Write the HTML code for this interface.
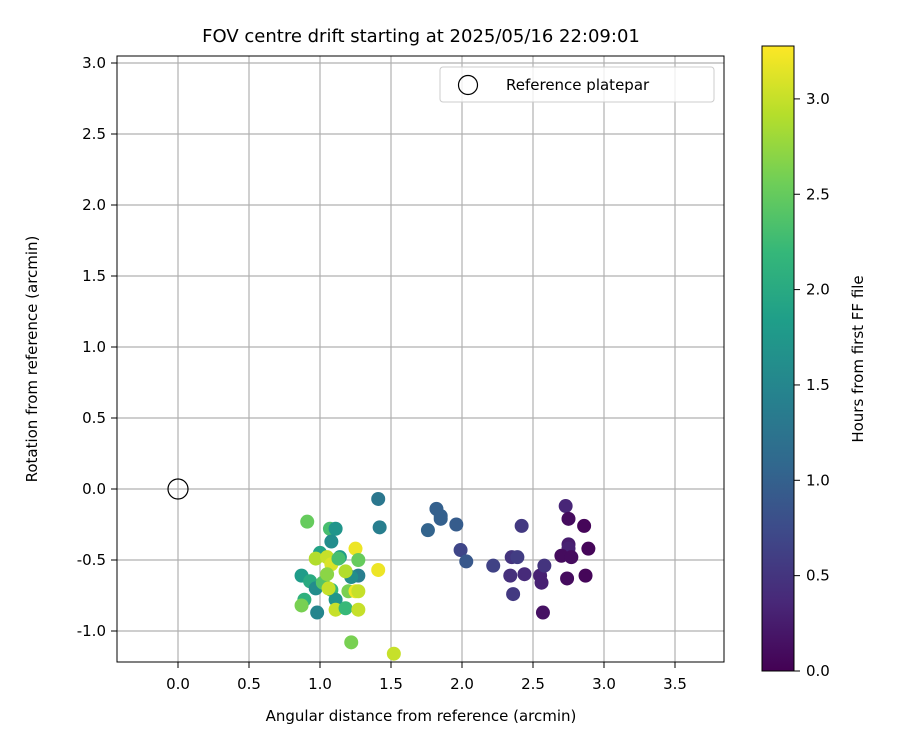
<!DOCTYPE html>
<html><head><meta charset="utf-8"><style>
body{margin:0;background:#fff;}
svg text{font-family:"DejaVu Sans","Liberation Sans",sans-serif;fill:#000;}
</style></head><body>
<svg id="chart" width="900" height="750" xmlns="http://www.w3.org/2000/svg">
<defs><linearGradient id="vir" x1="0" y1="1" x2="0" y2="0">
<stop offset="0" stop-color="#440154"/><stop offset="0.11" stop-color="#482878"/><stop offset="0.22" stop-color="#3e4989"/><stop offset="0.33" stop-color="#31688e"/><stop offset="0.44" stop-color="#26828e"/><stop offset="0.56" stop-color="#1f9e89"/><stop offset="0.67" stop-color="#35b779"/><stop offset="0.78" stop-color="#6ece58"/><stop offset="0.89" stop-color="#b5de2b"/><stop offset="1" stop-color="#fde725"/></linearGradient>
<clipPath id="clip"><rect x="117" y="56" width="607" height="606"/></clipPath></defs>
<text x="421" y="42" font-size="18" text-anchor="middle">FOV centre drift starting at 2025/05/16 22:09:01</text>
<g id="grid"></g><g id="pts" clip-path="url(#clip)"></g>
<rect x="117" y="56" width="607" height="606" fill="none" stroke="#000" stroke-width="1"/>
<g id="ticks"></g>
<text x="421" y="721" font-size="15" text-anchor="middle">Angular distance from reference (arcmin)</text>
<text transform="translate(37,359) rotate(-90)" font-size="15" text-anchor="middle">Rotation from reference (arcmin)</text>
<g>
<rect x="440" y="67" width="274" height="35" fill="#fff" fill-opacity="0.8" stroke="#ccc" rx="3"/>
<circle cx="468" cy="85" r="9.5" fill="none" stroke="#000" stroke-width="1.2"/>
<text x="506" y="90" font-size="15">Reference platepar</text></g>
<rect x="762" y="46" width="32" height="625" fill="url(#vir)" stroke="#000"/>
<g id="cbticks"></g>
<text transform="translate(863,359) rotate(-90)" font-size="15" text-anchor="middle">Hours from first FF file</text>
</svg>
<script>
const xs=[1.82,1.85,1.85,1.76,1.96,1.99,2.03,2.22,2.35,2.39,2.34,2.36,2.42,2.44,2.55,2.56,2.58,2.57,2.73,2.75,2.75,2.75,2.70,2.77,2.86,2.89,2.74,2.87,
1.41,1.42,0.91,1.07,1.11,1.08,1.25,1.41,1.27,1.27,1.22,1.14,1.0,0.97,1.05,1.08,1.13,1.18,0.87,0.93,0.97,1.02,1.05,1.08,1.11,1.06,1.20,1.25,1.27,0.89,0.87,0.98,1.11,1.18,1.27,1.22,1.52];
const ys=[-0.14,-0.19,-0.21,-0.29,-0.25,-0.43,-0.51,-0.54,-0.48,-0.48,-0.61,-0.74,-0.26,-0.60,-0.61,-0.66,-0.54,-0.87,-0.12,-0.21,-0.39,-0.42,-0.47,-0.48,-0.26,-0.42,-0.63,-0.61,
-0.07,-0.27,-0.23,-0.28,-0.28,-0.37,-0.42,-0.57,-0.50,-0.61,-0.62,-0.48,-0.45,-0.49,-0.48,-0.53,-0.49,-0.58,-0.61,-0.65,-0.70,-0.66,-0.60,-0.71,-0.78,-0.70,-0.72,-0.72,-0.72,-0.78,-0.82,-0.87,-0.85,-0.84,-0.85,-1.08,-1.16];
const hours=[1.0,1.0,1.0,1.05,0.95,0.7,0.9,0.65,0.5,0.6,0.45,0.55,0.55,0.4,0.3,0.3,0.5,0.15,0.35,0.1,0.25,0.3,0.1,0.1,0.05,0.05,0.1,0.05,
1.3,1.4,2.5,2.3,1.7,1.6,3.2,3.2,2.5,1.4,1.6,1.8,1.9,2.9,3.0,3.1,2.3,2.9,1.8,2.0,1.6,2.4,2.7,2.2,1.7,3.0,2.6,3.2,3.0,2.1,2.6,1.5,3.0,2.2,3.0,2.6,3.0];
const xTicks=[0,0.5,1,1.5,2,2.5,3,3.5];
const yTicks=[-1,-0.5,0,0.5,1,1.5,2,2.5,3];
const cTicks=[0,0.5,1,1.5,2,2.5,3];
const X=v=>178+v*142, Y=v=>489-v*142, C=v=>671-v*190.7, HMAX=3.28;
const vir=[[68,1,84],[72,40,120],[62,73,137],[49,104,142],[38,130,142],[31,158,137],[53,183,121],[110,206,88],[181,222,43],[253,231,37]];
function col(h){let t=Math.max(0,Math.min(1,h/HMAX))*(vir.length-1);let i=Math.min(Math.floor(t),vir.length-2),f=t-i;
return 'rgb('+vir[i].map((c,k)=>Math.round(c+(vir[i+1][k]-c)*f)).join(',')+')';}
const NS='http://www.w3.org/2000/svg';
function mk(p,tag,at){const e=document.createElementNS(NS,tag);for(const k in at)e.setAttribute(k,at[k]);p.appendChild(e);return e;}
const g=document.getElementById('grid'),t=document.getElementById('ticks'),pts=document.getElementById('pts'),cb=document.getElementById('cbticks');
xTicks.forEach(v=>{const l=mk(g,'line',{x1:X(v),x2:X(v),y1:56,y2:662,stroke:'#b0b0b0','stroke-width':1.2});


mk(t,'line',{x1:X(v),x2:X(v),y1:662,y2:668,stroke:'#000'});
const tx=mk(t,'text',{x:X(v),y:689,'font-size':15,'text-anchor':'middle'});tx.textContent=v.toFixed(1);

});
yTicks.forEach(v=>{const l=mk(g,'line',{x1:117,x2:724,y1:Y(v),y2:Y(v),stroke:'#b0b0b0','stroke-width':1.2});


mk(t,'line',{x1:111,x2:117,y1:Y(v),y2:Y(v),stroke:'#000'});
const tx=mk(t,'text',{x:106,y:Y(v)+5,'font-size':15,'text-anchor':'end'});tx.textContent=v.toFixed(1);

});
cTicks.forEach(v=>{mk(cb,'line',{x1:794,x2:800,y1:C(v),y2:C(v),stroke:'#000'});
const tx=mk(cb,'text',{x:806,y:C(v)+5,'font-size':15});tx.textContent=v.toFixed(1);

});
xs.forEach((v,i)=>{const c=mk(pts,'circle',{cx:X(v),cy:Y(ys[i]),r:7,fill:col(hours[i])});

});
const r=mk(pts,'circle',{cx:X(0),cy:Y(0),r:10,fill:'none',stroke:'#000','stroke-width':1.2});


</script>
</body></html>
